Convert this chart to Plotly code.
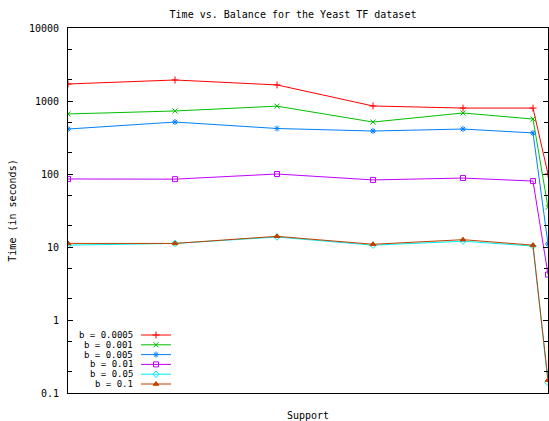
import plotly.graph_objects as go

# ---------------- data ----------------
support = [0, 107, 209, 305, 395, 465, 480]
series_names = ["b = 0.0005", "b = 0.001", "b = 0.005", "b = 0.01", "b = 0.05", "b = 0.1"]
t_b00005 = [1710, 1940, 1660, 855, 800, 800, 100]
t_b0001 = [664, 730, 850, 515, 685, 566, 35]
t_b0005 = [413, 515, 420, 388, 413, 365, 11]
t_b001 = [85.5, 85, 100, 83, 88, 80, 4.2]
t_b005 = [10.6, 11.2, 13.7, 10.6, 12.0, 10.3, 0.14]
t_b01 = [11.2, 11.2, 14.0, 10.9, 12.6, 10.6, 0.15]
series_values = [t_b00005, t_b0001, t_b0005, t_b001, t_b005, t_b01]
y_tick_vals = [0.1, 1, 10, 100, 1000, 10000]
y_tick_text = ["0.1", "1", "10", "100", "1000", "10000"]
y_minor_vals = [0.2, 0.5, 2, 5, 20, 50, 200, 500, 2000, 5000]

# ---------------- style ----------------
colors = ["#ff0000", "#00c000", "#0080ff", "#c000ff", "#00eeee", "#c04000"]
symbols = ["cross-thin-open", "x-thin-open", "asterisk-open", "square-open",
           "diamond-open", "triangle-up"]
FONT = "DejaVu Sans Mono"
W, H = 549, 421
L, R, T, B = 68, 1, 28, 28

fig = go.Figure()
for name, vals, c, s in zip(series_names, series_values, colors, symbols):
    fig.add_trace(go.Scatter(
        x=support, y=vals, mode="lines+markers", name=name,
        line=dict(color=c, width=1),
        marker=dict(symbol=s, size=5, color=c, line=dict(color=c, width=1)),
        showlegend=False, cliponaxis=True,
    ))

# manual gnuplot-style legend (text right-aligned, sample to the right)
plot_w = W - L - R
plot_h = H - T - B
text_right_px = 134
sample_x0_px, sample_x1_px = 141, 171
row0_px, row_step_px = 335, 9.8
for i, (name, c, s) in enumerate(zip(series_names, colors, symbols)):
    ypx = row0_px + i * row_step_px
    yp = (H - B - ypx) / plot_h
    x0 = (sample_x0_px - L) / plot_w
    x1 = (sample_x1_px - L) / plot_w
    fig.add_annotation(x=(text_right_px - L) / plot_w, y=yp, xref="paper", yref="paper",
                       text=name, showarrow=False, xanchor="right", yanchor="middle",
                       borderpad=0, font=dict(family=FONT, size=9, color="black"))
    fig.add_trace(go.Scatter(
        x=[x0, (x0 + x1) / 2, x1], y=[yp, yp, yp], xaxis="x2", yaxis="y2",
        mode="lines", line=dict(color=c, width=1), showlegend=False, hoverinfo="skip"))
    fig.add_trace(go.Scatter(
        x=[(x0 + x1) / 2], y=[yp], xaxis="x2", yaxis="y2", mode="markers",
        marker=dict(symbol=s, size=5, color=c, line=dict(color=c, width=1)),
        showlegend=False, hoverinfo="skip"))

fig.update_layout(
    width=W, height=H,
    margin=dict(l=L, r=R, t=T, b=B),
    paper_bgcolor="white", plot_bgcolor="white",
    font=dict(family=FONT, size=10, color="black"),
    title=dict(text="Time vs. Balance for the Yeast TF dataset", x=293 / W, xref="container",
               xanchor="center", y=1 - 14 / H, yref="container", yanchor="middle",
               font=dict(family=FONT, size=10, color="black")),
    xaxis=dict(range=[support[0], support[-1]], showgrid=False, zeroline=False,
               showticklabels=False, ticks="", showline=True, linecolor="black",
               linewidth=1, mirror=True,
               title=dict(text="Support", standoff=21, font=dict(family=FONT, size=10)),
               automargin=False),
    yaxis=dict(type="log", range=[-1, 4], showgrid=False, zeroline=False,
               tickvals=y_tick_vals, ticktext=y_tick_text, ticks="inside", ticklen=5,
               tickcolor="black", showline=True, linecolor="black", linewidth=1,
               mirror="ticks", ticklabelstandoff=6,
               minor=dict(tickvals=y_minor_vals, ticks="inside", ticklen=4, tickcolor="black"),
               title=dict(text="Time (in seconds)", standoff=10, font=dict(family=FONT, size=10)),
               automargin=False),
    xaxis2=dict(overlaying="x", range=[0, 1], visible=False),
    yaxis2=dict(overlaying="y", range=[0, 1], visible=False),
    showlegend=False,
)

fig.write_html("out.html", config={"displayModeBar": False},
               post_script="document.body.style.margin='0';document.body.style.padding='0';")
